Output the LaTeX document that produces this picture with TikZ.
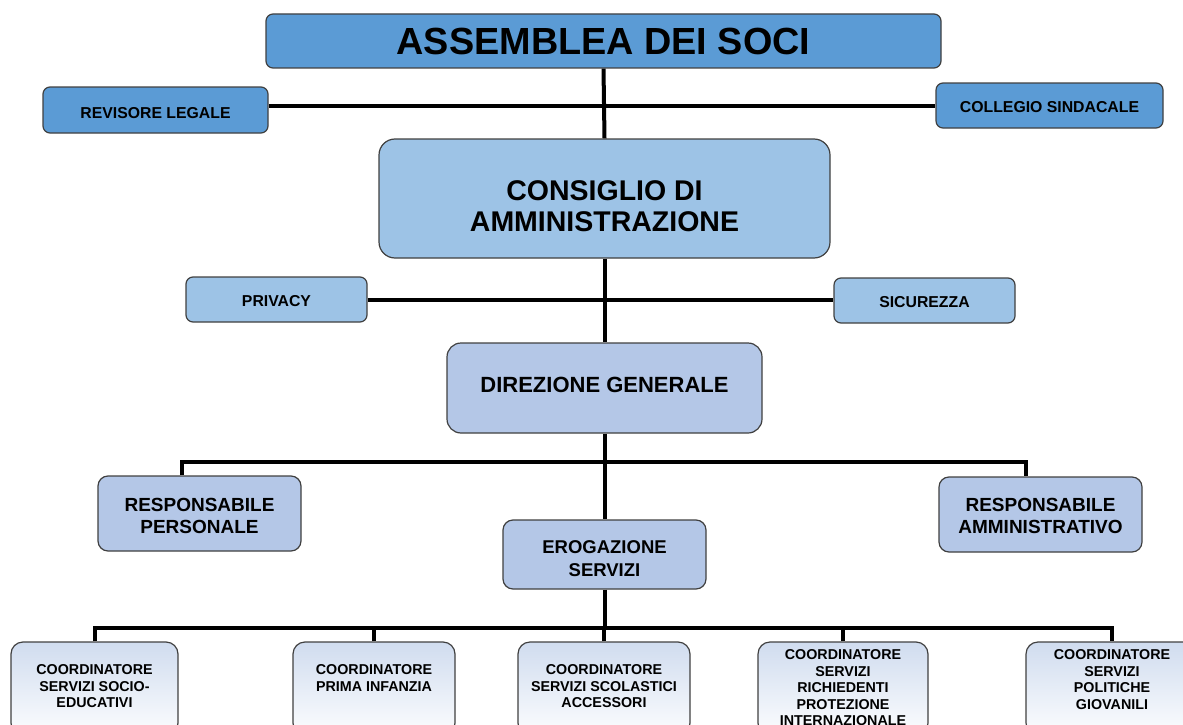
\documentclass[tikz,border=0pt]{standalone}
\usepackage{fontspec}
\setmainfont{Liberation Sans}
\definecolor{cA}{HTML}{5B9BD5}
\definecolor{cB}{HTML}{9DC3E6}
\definecolor{cC}{HTML}{B4C7E7}
\definecolor{bord}{HTML}{404040}
\definecolor{gtop}{HTML}{D0DCEF}
\definecolor{gbot}{HTML}{FCFDFE}
\newcommand\mkbox[7]{\node[bx, fill=#6, rounded corners=#7, minimum width={#4-#2}, minimum height={#5-#3}] (#1) at ({(#2+#4)/2},{(#3+#5)/2}) {};}
\newcommand\mkgbox[5]{\node[bx, top color=gtop, bottom color=gbot, rounded corners=12pt, minimum width={#4-#2}, minimum height={#5-#3}] (#1) at ({(#2+#4)/2},{(#3+#5)/2}) {};}
\begin{document}
\begin{tikzpicture}[x=1pt,y=-1pt,
  bx/.style={draw=bord, line width=1.2pt, inner sep=0pt},
  conn/.style={line width=4pt, black},
  txt/.style={inner sep=0pt, align=center},
  tbig/.style={txt, font=\fontsize{37.8}{40}\selectfont\bfseries},
  tcon/.style={txt, font=\fontsize{28.5}{31}\selectfont\bfseries},
  tdir/.style={txt, font=\fontsize{22}{25}\selectfont\bfseries},
  tmid/.style={txt, font=\fontsize{19}{22}\selectfont\bfseries},
  tero/.style={txt, font=\fontsize{18.5}{23}\selectfont\bfseries},
  tsml/.style={txt, font=\fontsize{15.8}{18}\selectfont\bfseries},
  tbot/.style={txt, anchor=north, font=\fontsize{14.3}{16.5}\selectfont\bfseries}]
\useasboundingbox (0,0) rectangle (1183,725);
\clip (0,0) rectangle (1183,725);
% boxes
\mkbox{ass}{266}{14}{941}{68}{cA}{7pt}
\mkbox{rev}{43}{87}{268}{133}{cA}{7pt}
\mkbox{col}{936}{83}{1163}{128}{cA}{7pt}
\mkbox{con}{379}{139}{830}{258}{cB}{16pt}
\mkbox{pri}{186}{277}{367}{322}{cB}{7pt}
\mkbox{sic}{834}{278}{1015}{323}{cB}{7pt}
\mkbox{dir}{447}{343}{762}{433}{cC}{14pt}
\mkbox{rp}{98}{476}{301}{551}{cC}{10pt}
\mkbox{ero}{503}{520}{706}{589}{cC}{10pt}
\mkbox{ra}{939}{477}{1142}{552}{cC}{10pt}
\mkgbox{b1}{11}{642}{178}{735}
\mkgbox{b2}{293}{642}{455}{735}
\mkgbox{b3}{518}{642}{690}{735}
\mkgbox{b4}{758}{642}{928}{735}
\mkgbox{b5}{1026}{642}{1198}{735}
% texts
\node[tbig] (t-ass) at (ass.center) {ASSEMBLEA DEI SOCI};
\node[tsml] (t-rev) at ([yshift=-3pt]rev.center) {REVISORE LEGALE};
\node[tsml] (t-col) at ([yshift=-2pt]col.center) {COLLEGIO SINDACALE};
\node[tcon] (t-con) at ([yshift=-7.5pt]con.center) {CONSIGLIO DI\\AMMINISTRAZIONE};
\node[tsml] (t-pri) at ([yshift=-2pt]pri.center) {PRIVACY};
\node[tsml] (t-sic) at ([yshift=-2pt]sic.center) {SICUREZZA};
\node[tdir] (t-dir) at ([yshift=3.3pt]dir.center) {DIREZIONE GENERALE};
\node[tmid] (t-rp) at ([yshift=-2.5pt]rp.center) {RESPONSABILE\\PERSONALE};
\node[tero] (t-ero) at ([yshift=-4pt]ero.center) {EROGAZIONE\\SERVIZI};
\node[tmid] (t-ra) at ([yshift=-1.5pt]ra.center) {RESPONSABILE\\AMMINISTRATIVO};
\node[tbot] (t-b1) at ([yshift=-23pt]b1.north) {COORDINATORE\\SERVIZI SOCIO-\\EDUCATIVI};
\node[tbot] (t-b2) at ([yshift=-23pt]b2.north) {COORDINATORE\\PRIMA INFANZIA};
\node[tbot] (t-b3) at ([yshift=-23pt]b3.north) {COORDINATORE\\SERVIZI SCOLASTICI\\ACCESSORI};
\node[tbot] (t-b4) at ([yshift=-8pt]b4.north) {COORDINATORE\\SERVIZI\\RICHIEDENTI\\PROTEZIONE\\INTERNAZIONALE};
\node[tbot] (t-b5) at ([yshift=-8pt]b5.north) {COORDINATORE\\SERVIZI\\POLITICHE\\GIOVANILI};
% connectors
\coordinate (br1) at (604.5,462);
\coordinate (br2) at (604.5,628);
\draw[conn] (ass.south) -- (con.north);
\draw[conn] (rev.east |- col.west) -- (col.west);
\draw[conn] (con.south) -- (dir.north);
\draw[conn] (pri.east) -- (pri.east -| sic.west);
\draw[conn] (dir.south) -- (ero.north);
\draw[conn] ([xshift=-17.5pt]rp.north) |- (br1) -| ([xshift=-14.5pt]ra.north);
\draw[conn] (ero.south) -- (br2);
\draw[conn] (b1.north) |- (br2) -| (b5.north);
\draw[conn] (b2.north) -- (b2.north |- br2);
\draw[conn] (b3.north) -- (b3.north |- br2);
\draw[conn] (b4.north) -- (b4.north |- br2);
\end{tikzpicture}
\end{document}
